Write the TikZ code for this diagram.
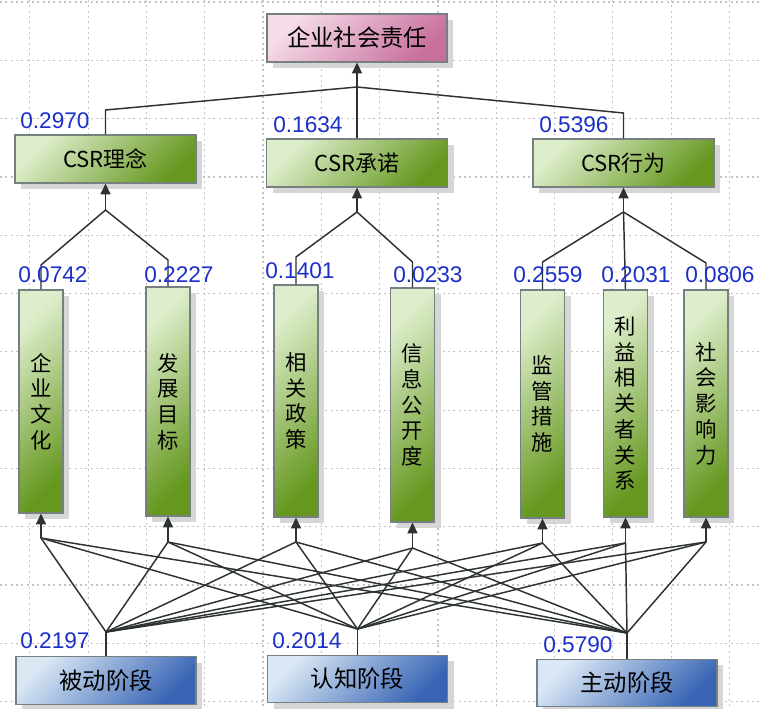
\documentclass[tikz,border=0pt]{standalone}
\usepackage{fontspec}
\newfontfamily\cjk{Noto Sans CJK SC}
\newfontfamily\numfont{Liberation Sans}
\usetikzlibrary{arrows.meta,shadows}
\definecolor{gridc}{RGB}{195,195,195}
\definecolor{edgec}{RGB}{118,128,128}
\definecolor{linec}{RGB}{45,50,50}
\definecolor{numc}{RGB}{28,48,200}
\definecolor{pinkL}{RGB}{246,220,234}
\definecolor{pinkD}{RGB}{200,112,156}
\definecolor{greenL}{RGB}{222,238,204}
\definecolor{greenD}{RGB}{102,152,32}
\definecolor{blueL}{RGB}{218,232,245}
\definecolor{blueD}{RGB}{55,100,180}
\definecolor{shadowc}{RGB}{214,214,214}
\begin{document}
\begin{tikzpicture}[x=0.75pt,y=-0.75pt,
  box/.style={draw=edgec, line width=0.9pt, inner sep=0pt,
    drop shadow={shadow xshift=4.5pt,shadow yshift=-4.5pt,fill=shadowc,opacity=1}},
  pinkbox/.style={box, top color=pinkL, bottom color=pinkD, shading angle=45,
    minimum width=135pt, minimum height=36pt, font=\cjk\fontsize{17.5}{20}\selectfont},
  greenbox/.style={box, top color=greenL, bottom color=greenD, shading angle=45,
    minimum width=135.75pt, minimum height=36pt, font=\cjk\fontsize{16.5}{18}\selectfont},
  vbox/.style={box, top color=greenL, bottom color=greenD, shading angle=45,
    minimum width=33pt, align=center, font=\cjk\fontsize{16}{19.3}\selectfont},
  bluebox/.style={box, top color=blueL, bottom color=blueD, shading angle=45,
    minimum width=135pt, minimum height=35.5pt, font=\cjk\fontsize{17.5}{20}\selectfont},
  num/.style={inner sep=0pt, anchor=base west, text=numc, font=\numfont\fontsize{17}{19}\selectfont},
  conn/.style={draw=linec, line width=1.1pt},
  arr/.style={conn, -{Triangle[length=8pt,width=7.5pt]}},
  gridline/.style={draw=gridc, line width=0.9pt, dash pattern=on 1.5pt off 2.5pt}
]
\useasboundingbox (0,0) rectangle (763,708);
\fill[white] (0,0) rectangle (763,708);
% grid
\foreach \i in {0,...,12} {
  \draw[gridline] ({29.8+58.3*\i},0) -- ({29.8+58.3*\i},708);
  \draw[gridline] (0,{2+58.3*\i}) -- (763,{2+58.3*\i});
}
% nodes
\node[pinkbox] (top) at (357,38) {企业社会责任};
\node[greenbox] (c1) at (105.5,159) {CSR理念};
\node[greenbox] (c2) at (357,163) {CSR承诺};
\node[greenbox] (c3) at (623.5,163) {CSR行为};
\node[vbox, minimum height=167.25pt] (v1) at (41,401.5) {企\\业\\文\\化};
\node[vbox, minimum height=171.75pt] (v2) at (168,401.5) {发\\展\\目\\标};
\node[vbox, minimum height=174pt] (v3) at (296,401) {相\\关\\政\\策};
\node[vbox, minimum height=175.5pt] (v4) at (412.5,405) {信\\息\\公\\开\\度};
\node[vbox, minimum height=171pt] (v5) at (542.5,404) {监\\管\\措\\施};
\node[vbox, minimum height=170.25pt] (v6) at (625.5,403.5) {利\\益\\相\\关\\者\\关\\系};
\node[vbox, minimum height=170.25pt] (v7) at (706,403.5) {社\\会\\影\\响\\力};
\node[bluebox] (b1) at (106,680.5) {被动阶段};
\node[bluebox] (b2) at (357.5,679) {认知阶段};
\node[bluebox] (b3) at (627,683) {主动阶段};
% top level connectors
\coordinate (T) at (357,87);
\coordinate (e1) at (c1.north |- 0,110);
\coordinate (e3) at (c3.north |- 0,113);
\draw[arr] (T) -- (top.south);
\draw[conn] (c1.north) -- (e1) -- (T) -- (e3) -- (c3.north);
\draw[conn] (T) -- (c2.north);
% middle connectors
\coordinate (B1) at (c1.south |- 0,210);
\coordinate (B2) at (c2.south |- 0,212);
\coordinate (B3) at (c3.south |- 0,212);
\coordinate (f1) at (v1.north |- 0,265);
\coordinate (f2) at (v2.north |- 0,260);
\coordinate (f3) at (v3.north |- 0,257);
\coordinate (f4) at (v4.north |- 0,262);
\coordinate (f5) at (v5.north |- 0,262);
\coordinate (f7) at (v7.north |- 0,263);
\draw[arr] (B1) -- (c1.south);
\draw[arr] (B2) -- (c2.south);
\draw[arr] (B3) -- (c3.south);
\draw[conn] (v1.north) -- (f1) -- (B1) -- (f2) -- (v2.north);
\draw[conn] (v3.north) -- (f3) -- (B2) -- (f4) -- (v4.north);
\draw[conn] (v5.north) -- (f5) -- (B3) -- (f7) -- (v7.north);
\draw[conn] (B3) -- (v6.north);
% bottom connectors
\coordinate (s1) at (v1.south |- 0,538);
\coordinate (s2) at (v2.south |- 0,542);
\coordinate (s3) at (v3.south |- 0,542);
\coordinate (s4) at (v4.south |- 0,548);
\coordinate (s5) at (v5.south |- 0,543);
\coordinate (s6) at (v6.south |- 0,543);
\coordinate (s7) at (v7.south |- 0,542);
\coordinate (P1) at (b1.north |- 0,632);
\coordinate (P2) at (b2.north |- 0,629);
\coordinate (P3) at (b3.north |- 0,633);
\foreach \k in {1,...,7} {
  \draw[arr] (s\k) -- (v\k.south);
  \foreach \p in {1,2,3} { \draw[conn] (s\k) -- (P\p); }
}
\draw[conn] (P1) -- (b1.north);
\draw[conn] (P2) -- (b2.north);
\draw[conn] (P3) -- (b3.north);
% weights
\node[num] (w0) at (20,128) {0.2970};
\node[num] (w1) at (273,132) {0.1634};
\node[num] (w2) at (539,132) {0.5396};
\node[num] (w3) at (18,282) {0.0742};
\node[num] (w4) at (144,282) {0.2227};
\node[num] (w5) at (265,278) {0.1401};
\node[num] (w6) at (393,282) {0.0233};
\node[num] (w7) at (513,282) {0.2559};
\node[num] (w8) at (601,282) {0.2031};
\node[num] (w9) at (685,282) {0.0806};
\node[num] (w10) at (20,648) {0.2197};
\node[num] (w11) at (272,648) {0.2014};
\node[num] (w12) at (543,652) {0.5790};
\end{tikzpicture}
\end{document}
